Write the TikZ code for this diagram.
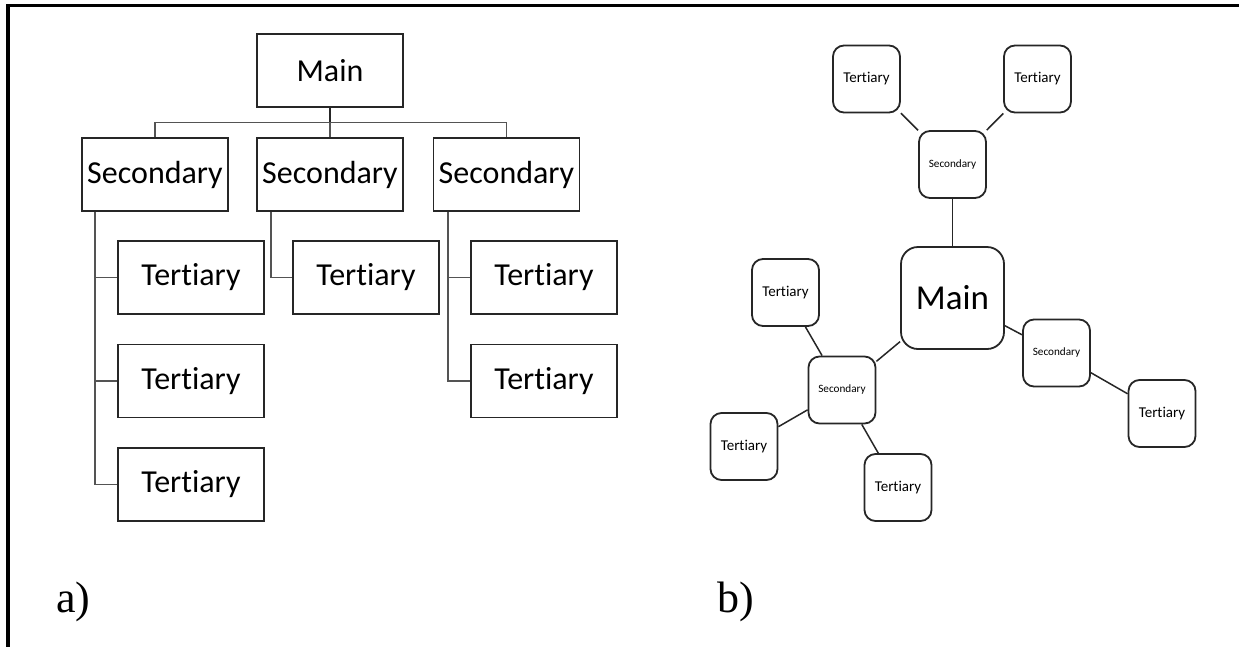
\documentclass[tikz,border=0pt]{standalone}
\usepackage{fontspec}
\setmainfont{Carlito}[RawFeature={-liga}]
\newfontfamily\timesf{Liberation Serif}
\usetikzlibrary{calc}
\definecolor{conngray}{rgb}{0.33,0.33,0.33}
\tikzset{
  sqbox/.style={draw=black!85, line width=1.6pt, fill=white, inner sep=0pt,
    minimum width=146pt, minimum height=73pt, font=\fontsize{32}{38}\selectfont},
  treeconn/.style={draw=conngray, line width=1.7pt},
  rbox/.style={draw=black!85, line width=1.8pt, fill=white, inner sep=0pt,
    rounded corners=11pt, minimum width=67pt, minimum height=67pt},
  tert/.style={rbox, font=\fontsize{15}{18}\selectfont},
  sec/.style={rbox, font=\fontsize{11.2}{13}\selectfont},
  bigmain/.style={rbox, rounded corners=17pt, minimum width=103pt, minimum height=102pt,
    font=\fontsize{35}{42}\selectfont},
  mapconn/.style={draw=black!85, line width=1.5pt},
  panel/.style={font=\timesf\fontsize{44}{50}\selectfont, anchor=base west, inner sep=0pt}
}
\begin{document}
\begin{tikzpicture}[x=1pt, y=-1pt]
\useasboundingbox (0,0) rectangle (1239,646);
% frame
\draw[line width=3.6pt, line cap=rect] (7.7,646) -- (7.7,5.6) -- (1239,5.6);

% ---------- a) tree ----------
\node[sqbox] (m)  at (330,70.5) {Main};
\node[sqbox] (s1) at (155,174.5) {Secondary};
\node[sqbox] (s2) at (330,174.5) {Secondary};
\node[sqbox] (s3) at (506.5,174.5) {Secondary};
\node[sqbox] (t11) at (191,277.5) {Tertiary};
\node[sqbox] (t12) at (191,381) {Tertiary};
\node[sqbox] (t13) at (191,484.5) {Tertiary};
\node[sqbox] (t21) at (366,277.5) {Tertiary};
\node[sqbox] (t31) at (544,277.5) {Tertiary};
\node[sqbox] (t32) at (544,381) {Tertiary};

\coordinate (bus) at ($(m.south)!0.5!(s2.north)$);
\draw[treeconn, draw=black!85] (m.south) -- (bus);
\draw[treeconn] (bus) -- (s2.north);
\draw[treeconn] (s1.north) |- (bus) -| (s3.north);

\coordinate (v1) at ($(s1.south west)+(14,0)$);
\coordinate (v2) at ($(s2.south west)+(15,0)$);
\coordinate (v3) at ($(s3.south west)+(15,0)$);
\draw[treeconn] (v1) |- (t13.west);
\draw[treeconn] (v1) |- (t11.west);
\draw[treeconn] (v1) |- (t12.west);
\draw[treeconn] (v2) |- (t21.west);
\draw[treeconn] (v3) |- (t32.west);
\draw[treeconn] (v3) |- (t31.west);

\node[panel] (la) at (56,612) {a)};

% ---------- b) mind map ----------
\node[bigmain] (rm) at (952.5,298) {Main};
\node[sec] (rs1) at (952.5,164.5) {Secondary};
\node[sec] (rs2) at (842,390) {Secondary};
\node[sec] (rs3) at (1056.5,353) {Secondary};
\node[tert] (rt1) at (866.5,79) {Tertiary};
\node[tert] (rt2) at (1037.5,79) {Tertiary};
\node[tert] (rt3) at (785.5,292.5) {Tertiary};
\node[tert] (rt4) at (744,446.5) {Tertiary};
\node[tert] (rt5) at (898,487.5) {Tertiary};
\node[tert] (rt6) at (1162,413.5) {Tertiary};

\draw[mapconn] (rm) -- (rs1);
\draw[mapconn] (rm) -- (rs2);
\draw[mapconn] (rm) -- (rs3);
\draw[mapconn] (rs1) -- (rt1);
\draw[mapconn] (rs1) -- (rt2);
\draw[mapconn] (rs2) -- (rt3);
\draw[mapconn] (rs2) -- (rt4);
\draw[mapconn] (rs2) -- (rt5);
\draw[mapconn] (rs3) -- (rt6);

\node[panel] (lb) at (717,612) {b)};
\end{tikzpicture}
\end{document}
